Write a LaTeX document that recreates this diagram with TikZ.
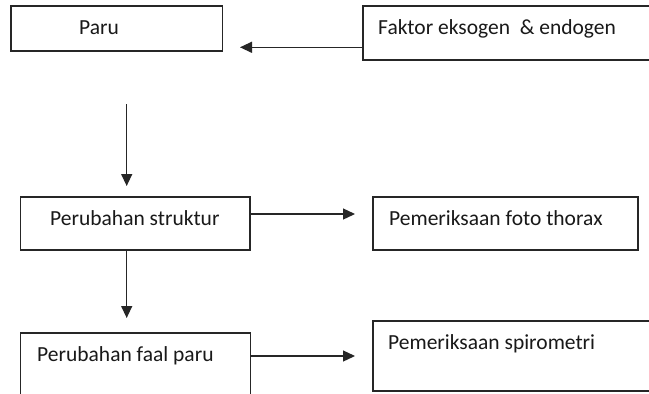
\documentclass[tikz,border=0pt]{standalone}
\usepackage{fontspec}
\setmainfont{Carlito}
\usetikzlibrary{arrows.meta}
\begin{document}
\begin{tikzpicture}[x=1pt,y=-1pt,
  box/.style={draw=black!85,line width=1.2pt,rectangle,inner sep=0pt,fill=white},
  txt/.style={anchor=base west,inner sep=0pt,text=black!90,font=\fontsize{21.5}{25}\selectfont},
  arr/.style={draw=black!85,line width=1.3pt,-{Triangle[length=12pt,width=11pt]}}]
\useasboundingbox (0,0) rectangle (649,394);
\clip (0,0) rectangle (649,394);
\fill[white] (0,0) rectangle (649,394);
% boxes
\node[box,minimum width=211.7pt,minimum height=45pt] (paru) at (116.85,28.5) {};
\node[box,minimum width=302pt,minimum height=54pt] (faktor) at (514,33) {};
\node[box,minimum width=229.3pt,minimum height=53pt] (struktur) at (135.35,223.5) {};
\node[box,minimum width=265pt,minimum height=53pt] (thorax) at (505.5,223.5) {};
\node[box,minimum width=230pt,minimum height=77pt] (faal) at (135.7,371.5) {};
\node[box,minimum width=292pt,minimum height=70pt] (spiro) at (519,356) {};
% texts
\node[txt] (tparu) at (79,34) {Paru};
\node[txt] (tfaktor) at (378,34) {Faktor eksogen\ \ \& endogen};
\node[txt] (tstruktur) at (50,225) {Perubahan struktur};
\node[txt] (tthorax) at (389,225) {Pemeriksaan foto thorax};
\node[txt] (tfaal) at (37,361) {Perubahan faal paru};
\node[txt] (tspiro) at (388,349) {Pemeriksaan spirometri};
% connector ends
\coordinate (t1) at (240,47.3);
\coordinate (v1s) at (126.7,104);
\coordinate (v1e) at (126.7,186);
\coordinate (t2) at (355,214);
\coordinate (t3) at (126.7,318);
\coordinate (t4) at (355,356);
% connectors
\draw[arr] (faktor.west |- t1) -- (t1);
\draw[arr] (v1s) -- (v1e);
\draw[arr] (struktur.east |- t2) -- (t2);
\draw[arr] (struktur.south -| t3) -- (t3);
\draw[arr] (faal.east |- t4) -- (t4);
\end{tikzpicture}
\end{document}
